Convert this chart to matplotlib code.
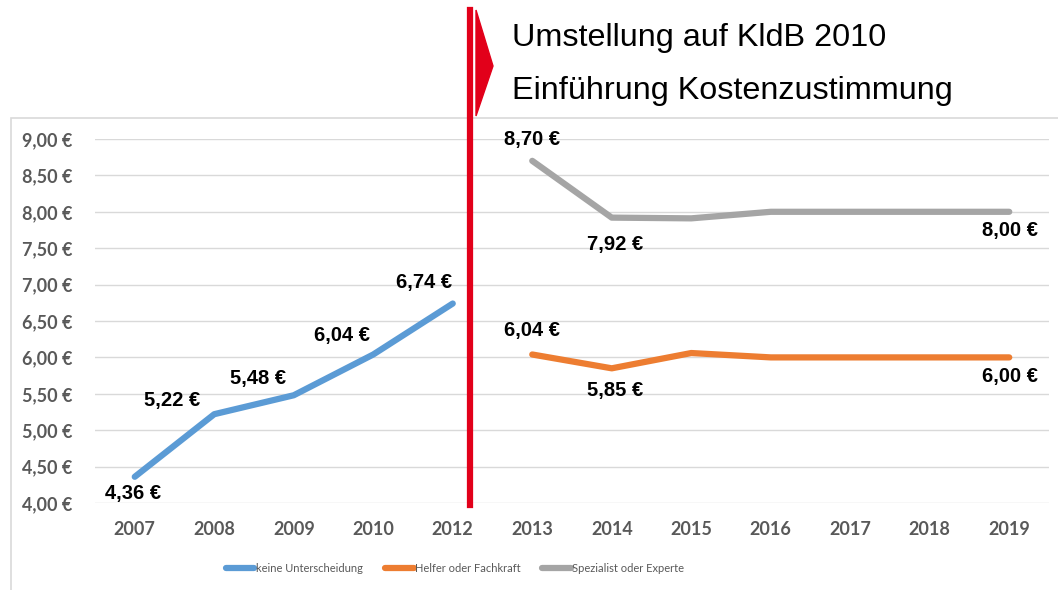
import numpy as np
import matplotlib
matplotlib.use('Agg')
import matplotlib.pyplot as plt
from matplotlib.patches import Polygon, Rectangle
from matplotlib.lines import Line2D

years = ['2007', '2008', '2009', '2010', '2012', '2013', '2014',
         '2015', '2016', '2017', '2018', '2019']
nan = np.nan
keine = [4.36, 5.22, 5.48, 6.04, 6.74, nan, nan, nan, nan, nan, nan, nan]
helfer = [nan, nan, nan, nan, nan, 6.04, 5.85, 6.06, 6.00, 6.00, 6.00, 6.00]
spezialist = [nan, nan, nan, nan, nan, 8.70, 7.92, 7.91, 8.00, 8.00, 8.00, 8.00]
series_names = ['keine Unterscheidung', 'Helfer oder Fachkraft', 'Spezialist oder Experte']
colors = ['#5b9bd5', '#ed7d31', '#a5a5a5']
yticks = [4.0, 4.5, 5.0, 5.5, 6.0, 6.5, 7.0, 7.5, 8.0, 8.5, 9.0]

# which points get a label, and where (pixel offset from point)
labels = [
    (keine, 0, (-2, -17)), (keine, 1, (-42, 14)), (keine, 2, (-36, 17)),
    (keine, 3, (-31, 19)), (keine, 4, (-29, 21)),
    (spezialist, 5, (0, 21)), (spezialist, 6, (3, -27)), (spezialist, 11, (1, -19)),
    (helfer, 5, (0, 24)), (helfer, 6, (3, -22)), (helfer, 11, (1, -19)),
]


def euro(v):
    return f'{v:.2f}'.replace('.', ',') + ' €'


W, H = 1058, 590
fig = plt.figure(figsize=(W / 100, H / 100), dpi=100)
ax = fig.add_axes([95 / W, 1 - 503 / H, 954 / W, 364 / H])

x = np.arange(len(years))
for data, name, c in zip([keine, helfer, spezialist], series_names, colors):
    ax.plot(x, data, color=c, lw=4.5, solid_capstyle='round',
            solid_joinstyle='round', label=name, zorder=3)

label_font = ['Liberation Sans Narrow', 'Liberation Sans', 'DejaVu Sans']
for data, i, off in labels:
    ax.annotate(euro(data[i]), (x[i], data[i]), xytext=off,
                textcoords='offset pixels', ha='center', va='center',
                fontsize=14.5, fontweight='bold', family=label_font,
                color='black', zorder=4)

ax.set_xlim(-0.5, len(years) - 0.5)
ax.set_ylim(4.0, 9.0)
ax.set_yticks(yticks)
ax.set_yticklabels([euro(v) for v in yticks])
ax.set_xticks(x)
ax.set_xticklabels(years)
tick_font = ['Lato', 'DejaVu Sans']
for lab in ax.get_xticklabels() + ax.get_yticklabels():
    lab.set_family(tick_font)
    lab.set_fontweight('bold')
    lab.set_fontsize(13)
    lab.set_color('#595959')
ax.tick_params(length=0)
ax.tick_params(axis='y', pad=16)
ax.tick_params(axis='x', pad=13)
ax.grid(axis='y', color='#d9d9d9', lw=1)
ax.set_axisbelow(True)
for s in ax.spines.values():
    s.set_visible(False)
ax.patch.set_alpha(0)

leg = fig.legend(loc='center', bbox_to_anchor=(455 / W, 1 - 568 / H), ncol=3,
                 frameon=False, handlelength=2.6, handletextpad=0.1,
                 columnspacing=2.0, prop={'family': tick_font, 'size': 8})
for t in leg.get_texts():
    t.set_color('#595959')

# chart frame
fig.add_artist(Rectangle((11 / W, -0.05), 1.1, (1 - 118 / H) + 0.05,
                         transform=fig.transFigure, fill=False,
                         edgecolor='#d9d9d9', lw=1.2, zorder=0))

# red marker line and arrow
red = '#e2001a'
fig.add_artist(Line2D([470 / W, 470 / W], [1 - 10 / H, 1 - 505 / H],
                      transform=fig.transFigure, color=red, lw=4.5, zorder=5))
fig.add_artist(Polygon([(476 / W, 1 - 10 / H), (493 / W, 1 - 66 / H),
                        (476 / W, 1 - 116 / H)], closed=True,
                       transform=fig.transFigure, color=red, zorder=5))

title_font = ['Liberation Sans', 'DejaVu Sans']
fig.text(512 / W, 1 - 38 / H, 'Umstellung auf KldB 2010', fontsize=23.3,
         family=title_font, va='center', ha='left', color='black')
fig.text(512 / W, 1 - 91 / H, 'Einführung Kostenzustimmung', fontsize=23.3,
         family=title_font, va='center', ha='left', color='black')

fig.savefig('out.png', dpi=100)
